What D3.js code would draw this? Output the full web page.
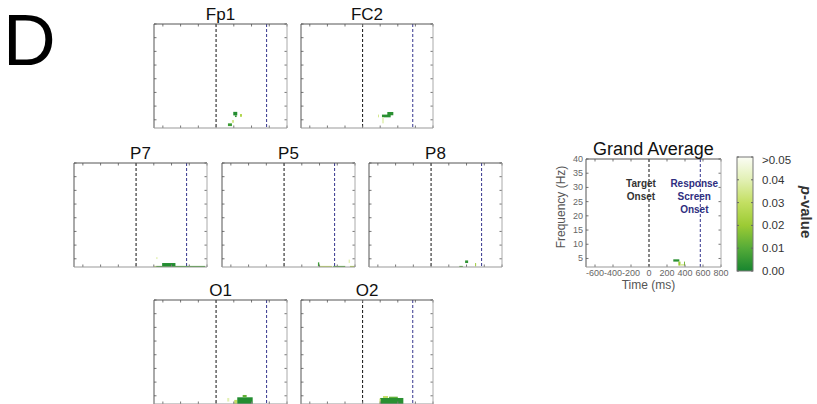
<!DOCTYPE html>
<html>
<head>
<meta charset="utf-8">
<script src="https://cdn.jsdelivr.net/npm/d3@7"></script>
<style>
  body { margin: 0; background: white; }
  text { font-family: "Liberation Sans", Arial, sans-serif; }
</style>
</head>
<body>
<div id="chart"></div>
<script>
// time axis (ms) and frequency axis (Hz)
var timeDomain = [-700, 800];
var freqDomain = [2, 40];
var timeTicks = [-600, -400, -200, 0, 200, 400, 600, 800];
var freqTicks = [5, 10, 15, 20, 25, 30, 35, 40];
var targetOnset = 0;
var responseOnset = 570;

// significant cells: [t0, t1, f0, f1, p]
var fp1Cells = [
    [194, 239, 6.6, 7.9, 0.002],
    [213, 232, 6.0, 6.6, 0.004],
    [270, 292, 6.1, 7.1, 0.025],
    [179, 202, 3.9, 4.9, 0.035],
    [134, 179, 2.7, 3.7, 0.006]
];
var fc2Cells = [
    [220, 319, 5.9, 6.9, 0.003],
    [281, 349, 6.65, 7.85, 0.003],
    [175, 183, 5.9, 6.9, 0.03],
    [220, 243, 3.7, 5.9, 0.042]
];
var p7Cells = [
    [204, 227, 2.0, 2.4, 0.03],
    [227, 780, 2.0, 2.4, 0.008],
    [294, 444, 2.2, 3.45, 0.002],
    [227, 242, 4.9, 5.6, 0.04]
];
var p5Cells = [
    [382, 397, 2.2, 3.7, 0.006],
    [397, 540, 2.0, 2.4, 0.03],
    [555, 690, 2.0, 2.4, 0.01],
    [728, 743, 3.5, 4.7, 0.04],
    [743, 800, 2.0, 2.4, 0.025]
];
var p8Cells = [
    [384, 418, 3.45, 4.4, 0.004],
    [319, 358, 2.0, 2.4, 0.01],
    [497, 508, 2.2, 3.45, 0.02]
];
var o1Cells = [
    [205, 239, 2.0, 3.5, 0.03],
    [239, 413, 2.0, 4.45, 0.002],
    [300, 345, 4.45, 5.3, 0.012],
    [126, 149, 2.9, 4.2, 0.04]
];
var o2Cells = [
    [198, 463, 2.0, 4.2, 0.003],
    [232, 289, 4.2, 4.9, 0.03],
    [300, 400, 4.2, 4.67, 0.012],
    [190, 205, 2.0, 4.0, 0.035]
];
var gaCells = [
    [270, 337, 3.9, 4.7, 0.003],
    [326, 350, 2.5, 3.9, 0.02],
    [350, 389, 2.5, 3.0, 0.035],
    [389, 400, 2.5, 3.9, 0.015]
];

var pTicks = [0, 0.01, 0.02, 0.03, 0.04, 0.05];
var pTickLabels = ["0.00", "0.01", "0.02", "0.03", "0.04", ">0.05"];
var pColors = ["#17852f", "#55ab38", "#9ccb34", "#c3df62", "#e2f0b4", "#fbfdf5"];

var color = d3.scaleLinear().domain(pTicks).range(pColors);

var svg = d3.select("#chart").append("svg")
    .attr("width", 817)
    .attr("height", 404);

svg.append("text")
    .attr("x", 3)
    .attr("y", 65)
    .style("font-size", "73px")
    .style("fill", "#000")
    .text("D");

var panels = [
    { name: "Fp1", cells: fp1Cells, box: [154, 24, 287, 128] },
    { name: "FC2", cells: fc2Cells, box: [301, 24, 433, 128] },
    { name: "P7", cells: p7Cells, box: [74, 163, 207, 267] },
    { name: "P5", cells: p5Cells, box: [222, 163, 355, 267] },
    { name: "P8", cells: p8Cells, box: [369, 163, 502, 267] },
    { name: "O1", cells: o1Cells, box: [154, 300, 287, 404] },
    { name: "O2", cells: o2Cells, box: [301, 300, 433, 404] },
    { name: "Grand Average", cells: gaCells, box: [586, 159, 721, 267], full: true }
];

function drawPanel(p) {
    var b = p.box;
    var x = d3.scaleLinear().domain(timeDomain).range([b[0], b[2]]);
    var y = d3.scaleLinear().domain(freqDomain).range([b[3], b[1]]);
    var g = svg.append("g");

    g.selectAll("rect.cell")
        .data(p.cells)
        .enter().append("rect")
        .attr("class", "cell")
        .attr("x", d => x(d[0]))
        .attr("width", d => x(d[1]) - x(d[0]))
        .attr("y", d => y(d[3]))
        .attr("height", d => y(d[2]) - y(d[3]))
        .attr("fill", d => color(d[4]));

    // onset lines
    g.append("line")
        .attr("x1", x(targetOnset)).attr("x2", x(targetOnset))
        .attr("y1", b[1]).attr("y2", b[3])
        .attr("stroke", "#111").attr("stroke-width", 1)
        .attr("stroke-dasharray", "3,2");
    g.append("line")
        .attr("x1", x(responseOnset)).attr("x2", x(responseOnset))
        .attr("y1", b[1]).attr("y2", b[3])
        .attr("stroke", "#34348e").attr("stroke-width", 1)
        .attr("stroke-dasharray", "3,2");

    // inward ticks on all sides
    var tk = 2.5;
    timeTicks.forEach(t => {
        g.append("line").attr("x1", x(t)).attr("x2", x(t))
            .attr("y1", b[3]).attr("y2", b[3] - tk).attr("stroke", "#777");
        g.append("line").attr("x1", x(t)).attr("x2", x(t))
            .attr("y1", b[1]).attr("y2", b[1] + tk).attr("stroke", "#777");
    });
    freqTicks.forEach(f => {
        g.append("line").attr("x1", b[0]).attr("x2", b[0] + tk)
            .attr("y1", y(f)).attr("y2", y(f)).attr("stroke", "#777");
        g.append("line").attr("x1", b[2]).attr("x2", b[2] - tk)
            .attr("y1", y(f)).attr("y2", y(f)).attr("stroke", "#777");
    });

    // box
    g.append("line").attr("x1", b[0]).attr("x2", b[2]).attr("y1", b[1]).attr("y2", b[1])
        .attr("stroke", "#555");
    g.append("line").attr("x1", b[0]).attr("x2", b[0]).attr("y1", b[1]).attr("y2", b[3])
        .attr("stroke", "#555");
    g.append("line").attr("x1", b[2]).attr("x2", b[2]).attr("y1", b[1]).attr("y2", b[3])
        .attr("stroke", "#aaa");
    g.append("line").attr("x1", b[0]).attr("x2", b[2]).attr("y1", b[3]).attr("y2", b[3])
        .attr("stroke", "#999");

    g.append("text")
        .attr("x", (b[0] + b[2]) / 2)
        .attr("y", b[1] - 4)
        .attr("text-anchor", "middle")
        .style("font-size", p.full ? "18px" : "17px")
        .style("fill", "#111")
        .text(p.name);

    if (p.full) {
        freqTicks.forEach(f => {
            g.append("text").attr("x", b[0] - 3).attr("y", y(f) + 3)
                .attr("text-anchor", "end")
                .style("font-size", "9px").style("fill", "#666")
                .text(f);
        });
        timeTicks.forEach(t => {
            g.append("text").attr("x", x(t)).attr("y", b[3] + 9)
                .attr("text-anchor", "middle")
                .style("font-size", "9px").style("fill", "#666")
                .text(t);
        });
        g.append("text")
            .attr("transform", `translate(${b[0] - 21},${(b[1] + b[3]) / 2 - 6}) rotate(-90)`)
            .attr("text-anchor", "middle")
            .style("font-size", "12px").style("fill", "#555")
            .text("Frequency (Hz)");
        g.append("text")
            .attr("x", (b[0] + b[2]) / 2 - 5)
            .attr("y", b[3] + 22)
            .attr("text-anchor", "middle")
            .style("font-size", "12px").style("fill", "#555")
            .text("Time (ms)");

        var tgt = g.append("text").attr("text-anchor", "middle")
            .style("font-size", "10px").style("font-weight", "bold").style("fill", "#333");
        ["Target", "Onset"].forEach((s, i) => {
            tgt.append("tspan").attr("x", x(targetOnset) - 8).attr("y", 187 + i * 13).text(s);
        });
        var rsp = g.append("text").attr("text-anchor", "middle")
            .style("font-size", "10px").style("font-weight", "bold").style("fill", "#2e2e80");
        ["Response", "Screen", "Onset"].forEach((s, i) => {
            rsp.append("tspan").attr("x", x(responseOnset) - 6).attr("y", 187 + i * 13).text(s);
        });
    }
}

panels.forEach(drawPanel);

// colour bar
var cb = { x: 737, w: 16, top: 157, bottom: 271 };
var cy = d3.scaleLinear().domain([0, 0.05]).range([cb.bottom, cb.top]);

var grad = svg.append("defs").append("linearGradient")
    .attr("id", "pgrad")
    .attr("x1", "0").attr("x2", "0").attr("y1", "1").attr("y2", "0");
pTicks.forEach((v, i) => {
    grad.append("stop").attr("offset", (v / 0.05)).attr("stop-color", pColors[i]);
});

svg.append("rect")
    .attr("x", cb.x).attr("y", cb.top)
    .attr("width", cb.w).attr("height", cb.bottom - cb.top)
    .attr("fill", "url(#pgrad)")
    .attr("stroke", "#777").attr("stroke-width", 1);

pTicks.forEach((v, i) => {
    svg.append("line")
        .attr("x1", cb.x + cb.w - 2).attr("x2", cb.x + cb.w)
        .attr("y1", cy(v)).attr("y2", cy(v)).attr("stroke", "#666");
    svg.append("line")
        .attr("x1", cb.x).attr("x2", cb.x + 2)
        .attr("y1", cy(v)).attr("y2", cy(v)).attr("stroke", "#666");
    svg.append("text")
        .attr("x", 762)
        .attr("y", Math.max(cy(v) + 4, cb.top + 7))
        .style("font-size", "11.5px").style("fill", "#333")
        .text(pTickLabels[i]);
});

var pl = svg.append("text")
    .attr("transform", "translate(801,212) rotate(90)")
    .attr("text-anchor", "middle")
    .style("font-size", "15px").style("font-weight", "bold").style("fill", "#333");
pl.append("tspan").style("font-style", "italic").text("p");
pl.append("tspan").text("-value");
</script>
</body>
</html>
